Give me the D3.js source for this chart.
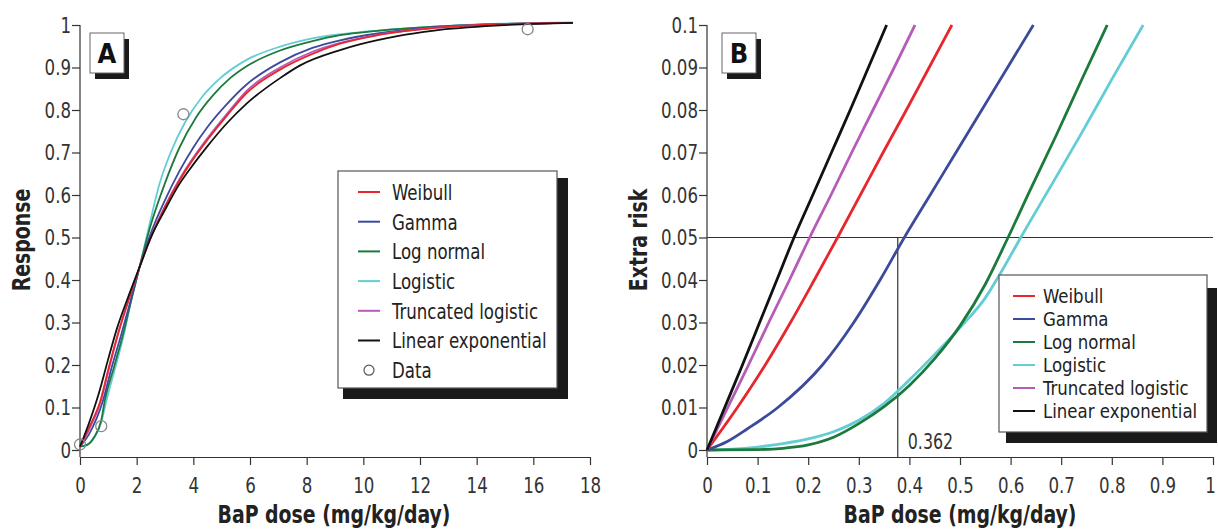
<!DOCTYPE html>
<html><head><meta charset="utf-8">
<script src="https://cdn.jsdelivr.net/npm/d3@7"></script>
<style>body{margin:0;background:#fff} svg{display:block}</style>
</head><body>
<svg id="c" width="1218" height="531"></svg>
<script>
// ---------- data ----------
const seriesNames  = ["Weibull","Gamma","Log normal","Logistic","Truncated logistic","Linear exponential"];
const seriesColors = ["#e8272d","#3c4a9c","#1b7a3c","#62cdd4","#b45cb8","#111111"];

const xTicksA = [0,2,4,6,8,10,12,14,16,18];
const yTicksA = [0,0.1,0.2,0.3,0.4,0.5,0.6,0.7,0.8,0.9,1];
const xTicksB = [0,0.1,0.2,0.3,0.4,0.5,0.6,0.7,0.8,0.9,1];
const yTicksB = [0,0.01,0.02,0.03,0.04,0.05,0.06,0.07,0.08,0.09,0.1];

// Panel A: response vs dose  [dose, response]
const aWeibull = [[0,0.008],[0.3,0.05],[0.73,0.118],[1.0,0.19],[1.35,0.275],[1.7,0.35],[2.1,0.43],[2.5,0.5],[3.0,0.572],[3.5,0.633],[4.0,0.685],[4.5,0.73],[5.2,0.788],[5.88,0.84],[7.06,0.895],[8.2,0.932],[9.18,0.956],[10.5,0.976],[12.5,0.993],[14.8,1.002],[17.4,1.005]];
const aGamma = [[0,0.008],[0.3,0.035],[0.82,0.118],[1.1,0.19],[1.47,0.275],[1.8,0.355],[2.1,0.43],[2.5,0.51],[3.0,0.588],[3.5,0.655],[4.0,0.712],[4.5,0.76],[5.2,0.815],[5.88,0.86],[7.06,0.912],[8.2,0.946],[9.18,0.964],[10.5,0.98],[12.5,0.995],[14.8,1.002],[17.4,1.005]];
const aLogNormal = [[0,0.008],[0.25,0.012],[0.5,0.03],[0.75,0.07],[0.88,0.118],[1.2,0.195],[1.53,0.275],[1.8,0.35],[2.1,0.43],[2.5,0.53],[3.0,0.628],[3.5,0.71],[4.1,0.783],[4.7,0.835],[5.3,0.875],[5.88,0.903],[7.06,0.94],[8.2,0.962],[9.18,0.976],[10.5,0.986],[12.5,0.996],[14.8,1.002],[17.4,1.005]];
const aLogistic = [[0,0.008],[0.25,0.012],[0.5,0.03],[0.75,0.065],[0.94,0.118],[1.25,0.195],[1.56,0.275],[1.8,0.35],[2.1,0.43],[2.45,0.53],[2.8,0.625],[3.2,0.7],[3.7,0.77],[4.3,0.83],[4.9,0.872],[5.88,0.918],[7.06,0.949],[8.24,0.969],[9.9,0.983],[12.5,0.996],[14.8,1.003],[17.4,1.006]];
const aTruncLogistic = [[0,0.008],[0.3,0.045],[0.75,0.118],[1.0,0.185],[1.35,0.275],[1.7,0.35],[2.1,0.43],[2.5,0.5],[3.0,0.574],[3.5,0.636],[4.0,0.688],[4.5,0.734],[5.2,0.792],[5.88,0.845],[7.06,0.9],[8.2,0.937],[9.18,0.958],[10.5,0.977],[12.5,0.993],[14.8,1.002],[17.4,1.005]];
const aLinearExp = [[0,0.008],[0.3,0.06],[0.65,0.13],[1.0,0.215],[1.3,0.285],[1.7,0.36],[2.1,0.43],[2.5,0.5],[3.0,0.565],[3.5,0.625],[4.0,0.672],[4.5,0.715],[5.2,0.77],[5.88,0.815],[7.06,0.875],[7.77,0.905],[9.18,0.941],[9.9,0.955],[11.2,0.974],[12.5,0.987],[14.8,0.999],[17.4,1.005]];
const dataDose = [0,0.75,3.65,15.8];
const dataResponse = [0.013,0.056,0.79,0.99];

// Panel B: extra risk vs dose  [dose, extra risk]
const bWeibull = [[0,0],[0.06,0.01],[0.115,0.02],[0.165,0.03],[0.212,0.04],[0.258,0.05],[0.303,0.06],[0.348,0.07],[0.394,0.08],[0.439,0.09],[0.484,0.1]];
const bGamma = [[0,0],[0.04,0.002],[0.08,0.005],[0.14,0.01],[0.228,0.02],[0.29,0.03],[0.342,0.04],[0.39,0.05],[0.441,0.06],[0.492,0.07],[0.543,0.08],[0.594,0.09],[0.645,0.1]];
const bLogNormal = [[0,0],[0.1,0.0001],[0.15,0.0004],[0.2,0.0012],[0.25,0.003],[0.3,0.0062],[0.35,0.0102],[0.4,0.0152],[0.45,0.0215],[0.5,0.0292],[0.55,0.039],[0.591,0.049],[0.64,0.0615],[0.69,0.074],[0.74,0.087],[0.791,0.1]];
const bLogistic = [[0,0],[0.05,0.0002],[0.1,0.0007],[0.15,0.0015],[0.2,0.0026],[0.25,0.0043],[0.3,0.007],[0.35,0.011],[0.4,0.0165],[0.45,0.0225],[0.5,0.0288],[0.55,0.0358],[0.58,0.0416],[0.62,0.05],[0.68,0.0622],[0.74,0.0745],[0.8,0.0872],[0.862,0.1]];
const bTruncLogistic = [[0,0],[0.041,0.01],[0.082,0.02],[0.122,0.03],[0.163,0.04],[0.203,0.05],[0.245,0.06],[0.286,0.07],[0.328,0.08],[0.37,0.09],[0.411,0.1]];
const bLinearExp = [[0,0],[0.035,0.01],[0.07,0.02],[0.104,0.03],[0.138,0.04],[0.172,0.05],[0.209,0.06],[0.246,0.07],[0.283,0.08],[0.319,0.09],[0.355,0.1]];
const bmrLevel = 0.05;
const bmdDose = 0.377;
const bmdLabel = "0.362";

// ---------- drawing ----------
const FONT = "'DejaVu Sans Condensed','Liberation Sans Narrow',sans-serif";
const SQ = 0.84; // horizontal squeeze to mimic the narrow typeface
const svg = d3.select("#c");
const seriesA = [aWeibull,aGamma,aLogNormal,aLogistic,aTruncLogistic,aLinearExp];
const seriesB = [bWeibull,bGamma,bLogNormal,bLogistic,bTruncLogistic,bLinearExp];
const drawOrder = [3,2,1,4,0,5];

function panel(o){
  const g = svg.append("g");
  const x = d3.scaleLinear().domain(o.xDomain).range(o.xRange);
  const y = d3.scaleLinear().domain(o.yDomain).range([450,25]);
  const axisY = 457;
  const xa = g.append("g").attr("transform",`translate(0,${axisY})`)
    .call(d3.axisBottom(x).tickValues(o.xTicks).tickSize(8).tickSizeOuter(0).tickPadding(12).tickFormat(d=>String(+d.toFixed(3))));
  const ya = g.append("g").attr("transform",`translate(${o.xRange[0]},0)`)
    .call(d3.axisLeft(y).tickValues(o.yTicks).tickSize(8).tickSizeOuter(0).tickPadding(1).tickFormat(d=>String(+d.toFixed(3))));
  ya.select(".domain").remove();
  g.append("line").attr("x1",o.xRange[0]).attr("x2",o.xRange[0]).attr("y1",y(o.yDomain[1])).attr("y2",axisY)
    .attr("stroke","#333").attr("stroke-width",1.2);
  [xa,ya].forEach(a=>{
    a.selectAll("path,line").attr("stroke","#333").attr("stroke-width",1.2);
    a.selectAll("text").attr("font-family",FONT).attr("font-size",22).attr("fill","#333").classed("cond",true);
  });
  if(o.lastTickShift){
    xa.selectAll(".tick").filter(d=>d===o.xTicks[o.xTicks.length-1]).select("text").attr("dx",o.lastTickShift);
  }
  g.append("text").attr("class","cond").attr("x",o.xTitleX).attr("y",523).attr("text-anchor","middle")
    .attr("font-family",FONT).attr("font-weight","bold").attr("font-size",25).attr("fill","#222").text("BaP dose (mg/kg/day)");
  g.append("text").attr("class","cond").attr("transform",`translate(${o.yTitleX},240) rotate(-90)`).attr("text-anchor","middle")
    .attr("font-family",FONT).attr("font-weight","bold").attr("font-size",25).attr("fill","#222").text(o.yTitle);
  const lb = o.labelBox;
  g.append("rect").attr("x",lb[0]+5).attr("y",lb[1]+6).attr("width",34).attr("height",40).attr("fill","#1a1a1a");
  g.append("rect").attr("x",lb[0]).attr("y",lb[1]).attr("width",34).attr("height",40).attr("fill","#fff").attr("stroke","#666").attr("stroke-width",1);
  g.append("text").attr("x",lb[0]+17).attr("y",lb[1]+30).attr("text-anchor","middle")
    .attr("font-family",FONT).attr("font-weight","bold").attr("font-size",27).attr("fill","#111").text(o.label);
  return {g,x,y};
}

// ----- Panel A -----
const A = panel({xDomain:[0,18], xRange:[80,590], yDomain:[0,1], xTicks:xTicksA, yTicks:yTicksA,
  xTitleX:334, yTitleX:30, yTitle:"Response", labelBox:[90,33], label:"A"});
const lineA = d3.line().x(d=>A.x(d[0])).y(d=>A.y(d[1])).curve(d3.curveMonotoneX);
drawOrder.forEach(i=>{
  A.g.append("path").datum(seriesA[i]).attr("d",lineA).attr("fill","none")
    .attr("stroke",seriesColors[i]).attr("stroke-width",1.8);
});
A.g.selectAll("circle.data").data(dataDose.map((d,i)=>[d,dataResponse[i]])).enter().append("circle")
  .attr("cx",d=>A.x(d[0])).attr("cy",d=>A.y(d[1])).attr("r",5.5)
  .attr("fill","none").attr("stroke","#888").attr("stroke-width",1.3);

// ----- Panel B -----
const B = panel({xDomain:[0,1], xRange:[707,1213], yDomain:[0,0.1], xTicks:xTicksB, yTicks:yTicksB,
  xTitleX:960, yTitleX:647, yTitle:"Extra risk", labelBox:[722,33], label:"B", lastTickShift:-3});
const lineB = d3.line().x(d=>B.x(d[0])).y(d=>B.y(d[1])).curve(d3.curveMonotoneX);
B.g.append("line").attr("x1",B.x(0)).attr("x2",B.x(1)).attr("y1",B.y(bmrLevel)).attr("y2",B.y(bmrLevel))
  .attr("stroke","#333").attr("stroke-width",1.2);
B.g.append("line").attr("x1",B.x(bmdDose)).attr("x2",B.x(bmdDose)).attr("y1",B.y(bmrLevel)).attr("y2",457)
  .attr("stroke","#333").attr("stroke-width",1.2);
B.g.append("text").attr("class","cond").attr("x",B.x(bmdDose)+10).attr("y",449).attr("font-family",FONT).attr("font-size",21)
  .attr("fill","#333").text(bmdLabel);
[3,2,1,0,4,5].forEach(i=>{
  B.g.append("path").datum(seriesB[i]).attr("d",lineB).attr("fill","none")
    .attr("stroke",seriesColors[i]).attr("stroke-width",2.8);
});

// ----- legends -----
function legend(box, shadow, rows, withData){
  const g = svg.append("g");
  g.append("rect").attr("x",shadow[0]).attr("y",shadow[1]).attr("width",shadow[2]-shadow[0]).attr("height",shadow[3]-shadow[1]).attr("fill","#1a1a1a");
  g.append("rect").attr("x",box[0]).attr("y",box[1]).attr("width",box[2]-box[0]).attr("height",box[3]-box[1])
    .attr("fill","#fff").attr("stroke","#555").attr("stroke-width",1.2);
  const labels = withData ? seriesNames.concat(["Data"]) : seriesNames;
  labels.forEach((n,i)=>{
    const cy = rows.y0 + i*rows.dy;
    if(i < seriesNames.length){
      g.append("line").attr("x1",rows.lx0).attr("x2",rows.lx1).attr("y1",cy).attr("y2",cy)
        .attr("stroke",seriesColors[i]).attr("stroke-width",2);
    } else {
      g.append("circle").attr("cx",(rows.lx0+rows.lx1)/2).attr("cy",cy).attr("r",5).attr("fill","none").attr("stroke","#555").attr("stroke-width",1.2);
    }
    g.append("g").attr("transform",`translate(${rows.tx},${cy}) scale(${rows.sq},1)`)
      .append("text").attr("x",0).attr("y",0).attr("dy","0.36em").attr("font-family",FONT)
      .attr("font-size",rows.fs).attr("fill","#222").text(n);
  });
}
legend([338,171,557,388],[343,178,568,399],{y0:192,dy:29.7,lx0:358,lx1:380,tx:392,fs:22,sq:SQ},true);
legend([999,275,1207,432],[1006,288,1217,443],{y0:296,dy:23,lx0:1013,lx1:1035,tx:1043,fs:19.5,sq:0.945},false);

// condense remaining texts horizontally to mimic the narrow typeface
svg.selectAll("text.cond").each(function(){
  const L = this.getComputedTextLength();
  d3.select(this).attr("textLength", (L*SQ).toFixed(1)).attr("lengthAdjust","spacingAndGlyphs");
});
</script>
</body></html>
